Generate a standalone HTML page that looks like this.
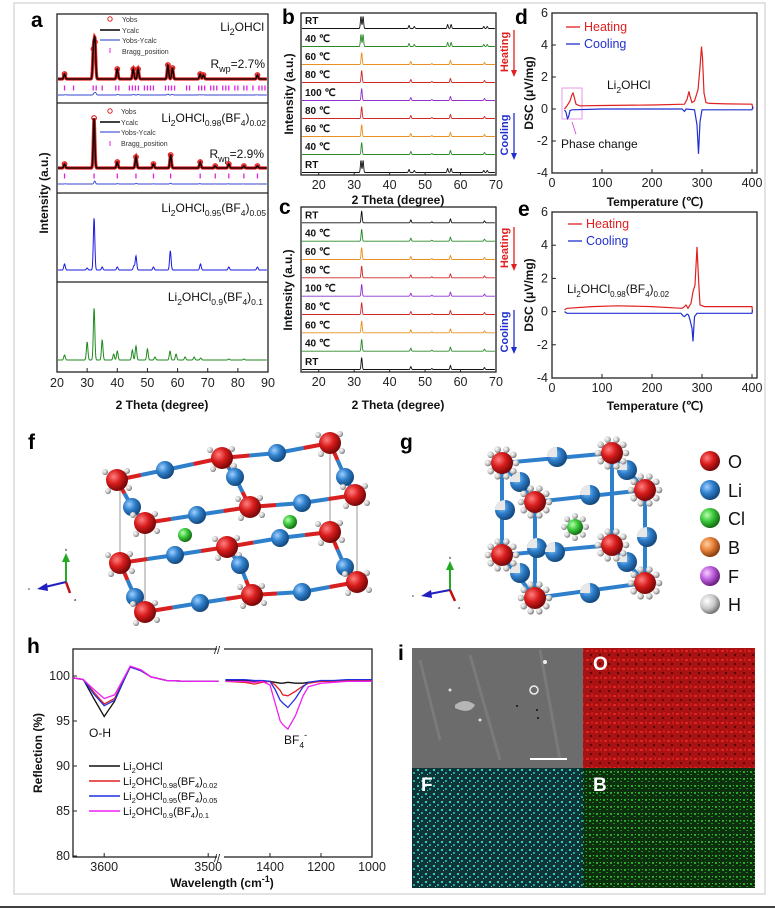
<!DOCTYPE html>
<html><head><meta charset="utf-8"><style>
html,body{margin:0;padding:0;background:#fff}
svg{display:block;font-family:"Liberation Sans",Arial,sans-serif}
.t{font-size:12px;fill:#111}
.b{font-weight:bold}
</style></head><body>
<svg id="fig" width="775" height="909" viewBox="0 0 775 909" xmlns="http://www.w3.org/2000/svg">
<defs>
<radialGradient id="gR" cx="35%" cy="35%" r="65%"><stop offset="0" stop-color="#ff8080"/><stop offset="0.5" stop-color="#d81c1c"/><stop offset="1" stop-color="#7a0808"/></radialGradient>
<radialGradient id="gB" cx="35%" cy="35%" r="65%"><stop offset="0" stop-color="#9fd0ff"/><stop offset="0.5" stop-color="#2f80cc"/><stop offset="1" stop-color="#154a80"/></radialGradient>
<radialGradient id="gG" cx="35%" cy="35%" r="65%"><stop offset="0" stop-color="#b8ffb0"/><stop offset="0.5" stop-color="#3cc83c"/><stop offset="1" stop-color="#157015"/></radialGradient>
<radialGradient id="gO" cx="35%" cy="35%" r="65%"><stop offset="0" stop-color="#ffd0a0"/><stop offset="0.5" stop-color="#e8823a"/><stop offset="1" stop-color="#8a4010"/></radialGradient>
<radialGradient id="gF" cx="35%" cy="35%" r="65%"><stop offset="0" stop-color="#f4d0ff"/><stop offset="0.5" stop-color="#c060e0"/><stop offset="1" stop-color="#6a2080"/></radialGradient>
<radialGradient id="gH" cx="35%" cy="35%" r="65%"><stop offset="0" stop-color="#ffffff"/><stop offset="0.6" stop-color="#c8c8c8"/><stop offset="1" stop-color="#777"/></radialGradient>
<pattern id="pO" width="9" height="9" patternUnits="userSpaceOnUse"><rect width="9" height="9" fill="#a81212"/><rect x="1" y="2" width="3" height="2" fill="#e02424"/><rect x="5" y="6" width="2" height="2" fill="#5a0505"/><rect x="6" y="1" width="2" height="3" fill="#cc1a1a"/></pattern>
<pattern id="pF" width="8" height="8" patternUnits="userSpaceOnUse"><rect width="8" height="8" fill="#0e3436"/><rect x="1" y="1" width="2" height="2" fill="#30d0d0"/><rect x="5" y="4" width="2" height="2" fill="#1fa6a6"/><rect x="3" y="6" width="1" height="1" fill="#40e0e0"/></pattern>
<pattern id="pBm" width="7" height="7" patternUnits="userSpaceOnUse"><rect width="7" height="7" fill="#0c300e"/><rect x="1" y="1" width="2" height="2" fill="#2aa82a"/><rect x="4" y="4" width="2" height="1" fill="#1f8a1f"/><rect x="5" y="1" width="1" height="1" fill="#38c038"/></pattern>
</defs>
<rect x="14" y="3" width="751" height="891" fill="none" stroke="#d0d0d0" stroke-width="1.2"/>
<line x1="0" y1="907" x2="775" y2="907" stroke="#000" stroke-width="1.5"/>

<g font-weight="bold" font-size="21" fill="#000">
<text x="31" y="27">a</text><text x="282" y="24">b</text><text x="279" y="214">c</text>
<text x="515" y="24">d</text><text x="518" y="216">e</text><text x="28" y="449">f</text>
<text x="400" y="449">g</text><text x="27" y="653">h</text><text x="398" y="660">i</text>
</g>

<g>
<rect x="57" y="14" width="211" height="358" fill="none" stroke="#222" stroke-width="1.3"/>
<line x1="57" y1="103" x2="268" y2="103" stroke="#222" stroke-width="1.3"/>
<line x1="57" y1="193" x2="268" y2="193" stroke="#222" stroke-width="1.3"/>
<line x1="57" y1="282" x2="268" y2="282" stroke="#222" stroke-width="1.3"/>
<text class="t b" font-size="14" transform="translate(48,193) rotate(-90)" text-anchor="middle">Intensity (a.u.)</text>
<text class="t b" font-size="15" x="162" y="409" text-anchor="middle">2 Theta (degree)</text>
<g font-size="7" fill="#333">
<circle cx="110" cy="19" r="2.2" fill="none" stroke="#e02020"/><text x="122" y="22">Yobs</text>
<line x1="100" y1="30" x2="120" y2="30" stroke="#000" stroke-width="1.5"/><text x="122" y="33">Ycalc</text>
<line x1="100" y1="40" x2="120" y2="40" stroke="#2233cc"/><text x="122" y="43">Yobs-Ycalc</text>
<line x1="110" y1="48" x2="110" y2="53" stroke="#e020e0"/><text x="122" y="54">Bragg_position</text>
</g>
<text class="t" font-size="13" x="264" y="31" text-anchor="end">Li<tspan dy="4" font-size="9">2</tspan><tspan dy="-4">OHCl</tspan></text>
<text class="t" font-size="13" x="265" y="68" text-anchor="end">R<tspan dy="4" font-size="9">wp</tspan><tspan dy="-4">=2.7%</tspan></text>
<g font-size="7" fill="#333">
<circle cx="110" cy="111" r="2.2" fill="none" stroke="#e02020"/><text x="121" y="114">Yobs</text>
<line x1="100" y1="122" x2="120" y2="122" stroke="#000" stroke-width="1.5"/><text x="121" y="125">Ycalc</text>
<line x1="100" y1="132" x2="120" y2="132" stroke="#2233cc"/><text x="121" y="135">Yobs-Ycalc</text>
<line x1="110" y1="141" x2="110" y2="146" stroke="#e020e0"/><text x="121" y="146">Bragg_position</text>
</g>
<text class="t" font-size="12.5" x="266" y="122" text-anchor="end">Li<tspan dy="4" font-size="8.5">2</tspan><tspan dy="-4">OHCl</tspan><tspan dy="4" font-size="8.5">0.98</tspan><tspan dy="-4">(BF</tspan><tspan dy="4" font-size="8.5">4</tspan><tspan dy="-4">)</tspan><tspan dy="4" font-size="8.5">0.02</tspan></text>
<text class="t" font-size="13" x="264" y="158" text-anchor="end">R<tspan dy="4" font-size="9">wp</tspan><tspan dy="-4">=2.9%</tspan></text>
<text class="t" font-size="12.5" x="266" y="212" text-anchor="end">Li<tspan dy="4" font-size="8.5">2</tspan><tspan dy="-4">OHCl</tspan><tspan dy="4" font-size="8.5">0.95</tspan><tspan dy="-4">(BF</tspan><tspan dy="4" font-size="8.5">4</tspan><tspan dy="-4">)</tspan><tspan dy="4" font-size="8.5">0.05</tspan></text>
<text class="t" font-size="12.5" x="263" y="301" text-anchor="end">Li<tspan dy="4" font-size="8.5">2</tspan><tspan dy="-4">OHCl</tspan><tspan dy="4" font-size="8.5">0.9</tspan><tspan dy="-4">(BF</tspan><tspan dy="4" font-size="8.5">4</tspan><tspan dy="-4">)</tspan><tspan dy="4" font-size="8.5">0.1</tspan></text>
<g id="aPlot"></g>
</g>

<g>
<rect x="301" y="13" width="195" height="162" fill="none" stroke="#222" stroke-width="1.3"/>
<text class="t b" font-size="14" transform="translate(293,94) rotate(-90)" text-anchor="middle">Intensity (a.u.)</text>
<text class="t b" font-size="15" x="398" y="204" text-anchor="middle">2 Theta (degree)</text>
<text font-size="11" font-weight="bold" fill="#e02020" transform="translate(508,52) rotate(-90)" text-anchor="middle">Heating</text>
<line x1="514" y1="30" x2="514" y2="72" stroke="#e02020" stroke-width="1.3"/><path d="M511,70 L514,77 L517,70Z" fill="#e02020"/>
<text font-size="11" font-weight="bold" fill="#2030d0" transform="translate(508,135) rotate(-90)" text-anchor="middle">Cooling</text>
<line x1="514" y1="113" x2="514" y2="155" stroke="#2030d0" stroke-width="1.3"/><path d="M511,153 L514,160 L517,153Z" fill="#2030d0"/>
<g id="bPlot"></g>
</g>
<g>
<rect x="301" y="207" width="195" height="165" fill="none" stroke="#222" stroke-width="1.3"/>
<text class="t b" font-size="14" transform="translate(292,290) rotate(-90)" text-anchor="middle">Intensity (a.u.)</text>
<text class="t b" font-size="15" x="398" y="409" text-anchor="middle">2 Theta (degree)</text>
<text font-size="11" font-weight="bold" fill="#e02020" transform="translate(508,248) rotate(-90)" text-anchor="middle">Heating</text>
<line x1="514" y1="227" x2="514" y2="266" stroke="#e02020" stroke-width="1.3"/><path d="M511,264 L514,271 L517,264Z" fill="#e02020"/>
<text font-size="11" font-weight="bold" fill="#2030d0" transform="translate(508,332) rotate(-90)" text-anchor="middle">Cooling</text>
<line x1="514" y1="310" x2="514" y2="349" stroke="#2030d0" stroke-width="1.3"/><path d="M511,347 L514,354 L517,347Z" fill="#2030d0"/>
<g id="cPlot"></g>
</g>

<g>
<rect x="552" y="13" width="205" height="160" fill="none" stroke="#222" stroke-width="1.3"/>
<text class="t b" font-size="14" transform="translate(533,93) rotate(-90)" text-anchor="middle">DSC (μV/mg)</text>
<text class="t b" font-size="14" x="655" y="206" text-anchor="middle">Temperature (℃)</text>
<line x1="566" y1="27" x2="580" y2="27" stroke="#e02020" stroke-width="1.3"/><text x="584" y="31" font-size="12.5" fill="#e02020">Heating</text>
<line x1="566" y1="44" x2="580" y2="44" stroke="#2030d0" stroke-width="1.3"/><text x="584" y="48" font-size="12.5" fill="#2030d0">Cooling</text>
<text class="t" font-size="12.5" x="607" y="89">Li<tspan dy="4" font-size="8.5">2</tspan><tspan dy="-4">OHCl</tspan></text>
<rect x="562" y="88" width="20" height="31" fill="none" stroke="#e080e0" stroke-width="0.8"/>
<line x1="576" y1="134" x2="572" y2="122" stroke="#d040d0" stroke-width="0.8"/>
<text class="t" font-size="12.5" x="561" y="148">Phase change</text>
<g id="dPlot"></g>
</g>
<g>
<rect x="552" y="212" width="205" height="166" fill="none" stroke="#222" stroke-width="1.3"/>
<text class="t b" font-size="14" transform="translate(533,295) rotate(-90)" text-anchor="middle">DSC (μV/mg)</text>
<text class="t b" font-size="14" x="655" y="410" text-anchor="middle">Temperature (℃)</text>
<line x1="568" y1="224" x2="582" y2="224" stroke="#e02020" stroke-width="1.3"/><text x="586" y="228" font-size="12.5" fill="#e02020">Heating</text>
<line x1="568" y1="241" x2="582" y2="241" stroke="#2030d0" stroke-width="1.3"/><text x="586" y="245" font-size="12.5" fill="#2030d0">Cooling</text>
<text class="t" font-size="12" x="567" y="293">Li<tspan dy="4" font-size="8">2</tspan><tspan dy="-4">OHCl</tspan><tspan dy="4" font-size="8">0.98</tspan><tspan dy="-4">(BF</tspan><tspan dy="4" font-size="8">4</tspan><tspan dy="-4">)</tspan><tspan dy="4" font-size="8">0.02</tspan></text>
<g id="ePlot"></g>
</g>

<g id="fPlot"></g>
<g id="gPlot"></g>
<g>
<circle cx="710" cy="461" r="10" fill="url(#gR)"/><text x="728" y="468" font-size="18" fill="#111">O</text>
<circle cx="710" cy="490" r="10" fill="url(#gB)"/><text x="728" y="497" font-size="18" fill="#111">Li</text>
<circle cx="710" cy="518" r="10" fill="url(#gG)"/><text x="728" y="525" font-size="18" fill="#111">Cl</text>
<circle cx="710" cy="547" r="10" fill="url(#gO)"/><text x="728" y="554" font-size="18" fill="#111">B</text>
<circle cx="710" cy="576" r="10" fill="url(#gF)"/><text x="728" y="583" font-size="18" fill="#111">F</text>
<circle cx="710" cy="604" r="10" fill="url(#gH)"/><text x="728" y="611" font-size="18" fill="#111">H</text>
</g>
<g>
<line x1="66" y1="582" x2="66" y2="560" stroke="#22aa22" stroke-width="2"/><path d="M62,562 L66,553 L70,562Z" fill="#22aa22"/>
<line x1="66" y1="582" x2="45" y2="587" stroke="#2020c0" stroke-width="2"/><path d="M47,583 L37,589 L48,591Z" fill="#2020c0"/>
<line x1="66" y1="582" x2="70" y2="593" stroke="#c01010" stroke-width="2.5"/>
<text x="65" y="551" font-size="4">b</text><text x="28" y="590" font-size="4">c</text><text x="74" y="601" font-size="4">a</text>
</g>
<g>
<line x1="450" y1="590" x2="450" y2="568" stroke="#22aa22" stroke-width="2"/><path d="M446,570 L450,561 L454,570Z" fill="#22aa22"/>
<line x1="450" y1="590" x2="429" y2="594" stroke="#2020c0" stroke-width="2"/><path d="M431,590 L421,596 L432,598Z" fill="#2020c0"/>
<line x1="450" y1="590" x2="455" y2="601" stroke="#c01010" stroke-width="2.5"/>
<text x="449" y="559" font-size="4">b</text><text x="412" y="597" font-size="4">c</text><text x="458" y="609" font-size="4">a</text>
</g>

<g>
<rect x="73" y="649" width="299" height="208" fill="none" stroke="#222" stroke-width="1.3"/>
<rect x="217" y="645" width="7" height="8" fill="#fff"/><rect x="217" y="853" width="7" height="8" fill="#fff"/>
<text x="214" y="654" font-size="11" fill="#222">//</text>
<text x="214" y="862" font-size="11" fill="#222">//</text>
<text class="t b" font-size="14" transform="translate(42,753) rotate(-90)" text-anchor="middle">Reflection (%)</text>
<text class="t b" font-size="14" x="222" y="887" text-anchor="middle">Wavelength (cm<tspan dy="-5" font-size="9">-1</tspan><tspan dy="5">)</tspan></text>
<text class="t" font-size="12.5" x="89" y="737">O-H</text>
<text class="t" font-size="12.5" x="284" y="744">BF<tspan dy="4" font-size="8.5">4</tspan><tspan dy="-10" font-size="9">-</tspan></text>
<g font-size="11" fill="#111">
<line x1="89" y1="766" x2="120" y2="766" stroke="#111" stroke-width="1.5"/><text x="123" y="770">Li<tspan dy="3" font-size="7.5">2</tspan><tspan dy="-3">OHCl</tspan></text>
<line x1="89" y1="781" x2="120" y2="781" stroke="#e02020" stroke-width="1.5"/><text x="123" y="785">Li<tspan dy="3" font-size="7.5">2</tspan><tspan dy="-3">OHCl</tspan><tspan dy="3" font-size="7.5">0.98</tspan><tspan dy="-3">(BF</tspan><tspan dy="3" font-size="7.5">4</tspan><tspan dy="-3">)</tspan><tspan dy="3" font-size="7.5">0.02</tspan></text>
<line x1="89" y1="796" x2="120" y2="796" stroke="#2030e0" stroke-width="1.5"/><text x="123" y="800">Li<tspan dy="3" font-size="7.5">2</tspan><tspan dy="-3">OHCl</tspan><tspan dy="3" font-size="7.5">0.95</tspan><tspan dy="-3">(BF</tspan><tspan dy="3" font-size="7.5">4</tspan><tspan dy="-3">)</tspan><tspan dy="3" font-size="7.5">0.05</tspan></text>
<line x1="89" y1="811" x2="120" y2="811" stroke="#f020f0" stroke-width="1.5"/><text x="123" y="815">Li<tspan dy="3" font-size="7.5">2</tspan><tspan dy="-3">OHCl</tspan><tspan dy="3" font-size="7.5">0.9</tspan><tspan dy="-3">(BF</tspan><tspan dy="3" font-size="7.5">4</tspan><tspan dy="-3">)</tspan><tspan dy="3" font-size="7.5">0.1</tspan></text>
</g>
<g id="hPlot"></g>
</g>

<g>
<rect x="412" y="648" width="171" height="120" fill="#6c6c6c"/>
<path d="M420,660 L440,740 M470,655 L500,760 M540,650 L560,760" stroke="#7a7a7a" stroke-width="3"/>
<path d="M455,705 q10,-8 20,0 q-5,10 -20,3Z" fill="#c8c8c8" opacity="0.8"/>
<circle cx="534" cy="690" r="4" fill="none" stroke="#eee" stroke-width="1.5"/>
<circle cx="450" cy="690" r="1.5" fill="#ddd"/><circle cx="480" cy="720" r="1.5" fill="#ddd"/><circle cx="545" cy="662" r="2" fill="#eee"/>
<circle cx="517" cy="706" r="1" fill="#111"/><circle cx="538" cy="718" r="1" fill="#111"/><circle cx="537" cy="710" r="1" fill="#111"/>
<line x1="530" y1="759" x2="567" y2="759" stroke="#fff" stroke-width="2"/>
<rect x="583" y="648" width="172" height="120" fill="url(#pO)"/>
<rect x="412" y="768" width="171" height="120" fill="url(#pF)"/>
<rect x="583" y="768" width="172" height="120" fill="url(#pBm)"/>
<text x="593" y="670" font-size="19" font-weight="bold" fill="#fff">O</text>
<text x="421" y="791" font-size="19" font-weight="bold" fill="#fff">F</text>
<text x="593" y="791" font-size="19" font-weight="bold" fill="#fff">B</text>
</g>
</svg>
<script>
const aTicks=[20,30,40,50,60,70,80,90];
const aPeaks1=[22.5,32.1,32.6,40,45.3,46.9,56.8,58.3,67.5,68.6,86.5];
const aInts1=[5,30,37,10,10,10,14,11,5,4,4];
const aBragg1=[22.5,25.5,32,33,35,39.5,40.5,44,45,46,47,49,50,51,52,56,57,58,59,63,64,67,68,69,71,72,73,75,76,77,79,80,82,83,85,87,88,89];
const aPeaks2=[22.5,32.3,40,46.2,52,57.7,67.5,72.5,77,82,86.5];
const aInts2=[4,50,6,11,4,13,6,2,4,2,2];
const aBragg2=[22.5,32.3,40,46.2,52,57.7,67.5,72.5,77,82,86.5];
const aPeaks3=[22.5,30,32.3,35,40,45.5,46.2,52,57.6,67.6,77,86.5];
const aInts3=[6,2,52,3,3,4,14,3,19,6,3,3];
const aPeaks4=[22.5,30,32.3,35,38.8,40,45,46.2,50,52.5,57.5,59.5,62.5,65.5,67.7,77,82];
const aInts4=[5,18,52,20,6,9,10,14,11,3,9,6,3,3,2,1,1];

const bcTicks=[20,30,40,50,60,70];
const rowLabels=["RT","40 ℃","60 ℃","80 ℃","100 ℃","80 ℃","60 ℃","40 ℃","RT"];
const rowColors=["#111","#2a8a2a","#e89020","#d02828","#9030d0","#d02828","#e89020","#2a8a2a","#111"];
const bRowPhase=["RT","RT","HT","HT","HT","HT","HT","HT","RT"];
const peaksRT=[31.8,32.4,45.5,47,56.5,57.5,66.8,67.8];
const intsRT=[12,12,3,2,4,4,2,2];
const peaksHT=[32,46,52,57.3,67];
const intsHT=[12,3,1,4,2];

const dscXTicks=[0,100,200,300,400];
const dscYTicks=[-4,-2,0,2,4,6];
const dHeatT=[25,30,36,40,42,44,48,55,100,200,265,270,274,276,280,285,292,296,299,301,304,308,315,350,400,402];
const dHeatV=[0.0,0.2,0.5,0.9,1.0,0.8,0.3,0.2,0.22,0.25,0.3,0.6,1.1,0.8,0.4,0.5,1.2,2.6,3.9,3.2,1.0,0.4,0.35,0.32,0.3,0.0];
const dCoolT=[25,28,31,33,36,40,100,200,260,265,268,285,290,293,296,300,350,400,402];
const dCoolV=[-0.05,-0.2,-0.6,-0.5,-0.1,-0.05,0.0,0.0,0.0,-0.15,0.0,-0.05,-1.0,-2.8,-0.8,-0.05,-0.05,-0.05,0.15];
const eHeatT=[25,30,80,130,200,260,265,268,272,278,282,286,290,293,296,305,350,400,401];
const eHeatV=[0.1,0.2,0.3,0.35,0.3,0.2,0.3,0.4,0.2,0.5,1.2,1.6,3.9,2.0,0.4,0.3,0.3,0.3,0.0];
const eCoolT=[25,30,100,200,258,262,265,270,273,276,280,282,285,290,300,400,401];
const eCoolV=[0.0,-0.1,-0.1,-0.1,-0.1,-0.25,-0.3,-0.15,-0.2,-0.5,-1.0,-1.8,-0.3,-0.1,-0.1,-0.1,0.1];

const hYTicks=[80,85,90,95,100];
const hLeftTicks=[3600,3500];
const hRightTicks=[1400,1200,1000];
const hLeftX=[3630,3620,3610,3600,3590,3580,3575,3565,3555,3540,3520,3500,3490];
const hBlackL=[99.8,99.6,97.5,95.5,97.2,99.8,101.0,100.7,99.9,99.5,99.4,99.4,99.4];
const hRedL=[99.8,99.6,98.2,96.9,97.5,99.9,101.0,100.6,99.9,99.5,99.4,99.4,99.4];
const hBlueL=[99.8,99.6,98.0,96.7,97.3,99.8,101.0,100.6,99.9,99.5,99.4,99.4,99.4];
const hMagL=[99.8,99.6,98.5,97.5,97.9,100.0,101.1,100.7,99.9,99.5,99.4,99.4,99.4];
const hRightX=[1575,1500,1460,1430,1400,1380,1360,1350,1330,1300,1270,1250,1200,1150,1100,1000];
const hBlackR=[99.5,99.5,99.4,99.4,99.4,99.3,99.2,99.2,99.3,99.2,99.2,99.3,99.4,99.4,99.5,99.5];
const hRedR=[99.4,99.3,99.1,99.3,99.4,99.0,98.4,97.9,97.8,98.3,98.9,99.2,99.4,99.4,99.5,99.5];
const hBlueR=[99.6,99.6,99.5,99.5,99.4,98.5,97.3,97.0,96.5,97.5,98.8,99.3,99.5,99.5,99.6,99.6];
const hMagR=[99.4,99.4,99.3,99.4,99.0,97.0,95.0,94.6,94.1,95.6,97.8,98.8,99.2,99.3,99.4,99.4];

const NS='http://www.w3.org/2000/svg';
function mk(tag,attrs,parent){const e=document.createElementNS(NS,tag);for(const k in attrs)e.setAttribute(k,attrs[k]);parent.appendChild(e);return e;}
function profile(d,pos,ints,w){let v=0;for(let i=0;i<pos.length;i++){const z=(d-pos[i])/w;v+=ints[i]*Math.exp(-z*z);}return v;}
function specPath(x0,x1,d0,d1,base,scale,pos,ints,w){let s='';for(let px=x0;px<=x1;px+=0.3){const d=d0+(px-x0)/(x1-x0)*(d1-d0);const y=base-profile(d,pos,ints,w)*scale;s+=(s?'L':'M')+px.toFixed(1)+','+y.toFixed(1);}return s;}
function linePath(xs,ys,fx,fy){return xs.map((x,i)=>(i?'L':'M')+fx(x).toFixed(1)+','+fy(ys[i]).toFixed(1)).join('');}

const aG=document.getElementById('aPlot');
const xA=d=>57+(d-20)/70*211;
const aSets=[
 {pos:aPeaks1,ints:aInts1,base:79,color:'#000',red:true,bragg:aBragg1,by:88,ry:95},
 {pos:aPeaks2,ints:aInts2,base:168,color:'#000',red:true,bragg:aBragg2,by:176,ry:184},
 {pos:aPeaks3,ints:aInts3,base:270,color:'#1a1ae0',red:false},
 {pos:aPeaks4,ints:aInts4,base:360,color:'#1f8a1f',red:false}];
aSets.forEach((s,k)=>{
 const d=specPath(58,267,20+1/211*70,90-1/211*70,s.base,1,s.pos,s.ints,0.35);
 if(s.red){
  const r=mk('path',{d:d,fill:'none',stroke:'#e02020','stroke-width':3.2},aG);
  
  
  s.pos.forEach((p,i)=>{const c=mk('circle',{cx:xA(p),cy:s.base-s.ints[i],r:2.3,fill:'none',stroke:'#e02020','stroke-width':1.2},aG);
   
   });
 }
 const p=mk('path',{d:d,fill:'none',stroke:s.color,'stroke-width':s.red?1.3:1},aG);
 
 
 if(s.bragg){
  s.bragg.forEach(b=>{const t=mk('line',{x1:xA(b),x2:xA(b),y1:s.by-2.5,y2:s.by+2.5,stroke:'#e020e0','stroke-width':1.3},aG);
   
   });
  const dd=specPath(58,267,20,90,s.ry,0.06,s.pos,s.ints,0.35);
  const rr=mk('path',{d:dd,fill:'none',stroke:'#3344cc','stroke-width':0.9},aG);
  
  
 }
});
aTicks.forEach(t=>{
 const l=mk('line',{x1:xA(t),x2:xA(t),y1:372,y2:368,stroke:'#222'},aG);
 
 
 const tx=mk('text',{x:xA(t),y:387,'text-anchor':'middle','font-size':12.5,fill:'#222'},aG);tx.textContent=t;
 
 
});

function rowPanel(gid,top,bottom,phases,prefix){
 const g=document.getElementById(gid);
 const xB=d=>301+(d-15)/55*195;
 const rh=(bottom-top)/9;
 rowLabels.forEach((lab,i)=>{
  const base=top+rh*(i+1)-2.5;
  const rt=phases[i]==='RT';
  const d=specPath(302,495,15,70,base,1,rt?peaksRT:peaksHT,rt?intsRT:intsHT,0.22);
  const p=mk('path',{d:d,fill:'none',stroke:rowColors[i],'stroke-width':0.9},g);
  
  
  const t=mk('text',{x:305,y:top+rh*i+rh*0.62,'font-size':10,'font-weight':'bold',fill:'#111'},g);t.textContent=lab;
  
  
 });
 bcTicks.forEach(v=>{
  const l=mk('line',{x1:xB(v),x2:xB(v),y1:bottom,y2:bottom-3,stroke:'#222'},g);
  
  
  const tx=mk('text',{x:xB(v),y:bottom+14,'text-anchor':'middle','font-size':12.5,fill:'#222'},g);tx.textContent=v;
  
  
 });
}
rowPanel('bPlot',13,175,bRowPhase,'b');
rowPanel('cPlot',207,372,["HT","HT","HT","HT","HT","HT","HT","HT","HT"],'c');

function dscPanel(gid,top,bottom,hT,hV,cT,cV,prefix){
 const g=document.getElementById(gid);
 const fx=t=>552+t/410*205, fy=v=>bottom-(v+4)/10*(bottom-top);
 dscYTicks.forEach(v=>{
  const l=mk('line',{x1:552,x2:556,y1:fy(v),y2:fy(v),stroke:'#222'},g);
  
  
  const tx=mk('text',{x:548,y:fy(v)+4,'text-anchor':'end','font-size':12.5,fill:'#222'},g);tx.textContent=v;
  
  
 });
 dscXTicks.forEach(v=>{
  const l=mk('line',{x1:fx(v),x2:fx(v),y1:bottom,y2:bottom-4,stroke:'#222'},g);
  
  
  const tx=mk('text',{x:fx(v),y:bottom+14,'text-anchor':'middle','font-size':12.5,fill:'#222'},g);tx.textContent=v;
  
  
 });
 const h=mk('path',{d:linePath(hT,hV,fx,fy),fill:'none',stroke:'#e02020','stroke-width':1.2},g);
 
 
 const c=mk('path',{d:linePath(cT,cV,fx,fy),fill:'none',stroke:'#2030d0','stroke-width':1.2},g);
 
 
}
dscPanel('dPlot',13,173,dHeatT,dHeatV,dCoolT,dCoolV,'d');
dscPanel('ePlot',212,378,eHeatT,eHeatV,eCoolT,eCoolV,'e');

(function(){
 const g=document.getElementById('hPlot');
 const fxL=d=>73+(3630-d)*1.04, fxR=d=>270+(1400-d)*0.255, fy=v=>676+(100-v)*9;
 hYTicks.forEach(v=>{
  const l=mk('line',{x1:73,x2:77,y1:fy(v),y2:fy(v),stroke:'#222'},g);
  
  
  const tx=mk('text',{x:70,y:fy(v)+4,'text-anchor':'end','font-size':12.5,fill:'#222'},g);tx.textContent=v;
  
  
 });
 hLeftTicks.concat(hRightTicks).forEach((v,i)=>{
  const x=i<hLeftTicks.length?fxL(v):fxR(v);
  const l=mk('line',{x1:x,x2:x,y1:857,y2:853,stroke:'#222'},g);
  
  
  const tx=mk('text',{x:x,y:871,'text-anchor':'middle','font-size':12.5,fill:'#222'},g);tx.textContent=v;
  
  
 });
 const series=[[hBlackL,hBlackR,'#111'],[hRedL,hRedR,'#e02020'],[hBlueL,hBlueR,'#2030e0'],[hMagL,hMagR,'#f020f0']];
 series.forEach((s,i)=>{
  const a=mk('path',{d:linePath(hLeftX,s[0],fxL,fy),fill:'none',stroke:s[2],'stroke-width':1.3},g);
  
  
  const b=mk('path',{d:linePath(hRightX,s[1],fxR,fy),fill:'none',stroke:s[2],'stroke-width':1.3},g);
  
  
 });
})();

(function(){
 const g=document.getElementById('fPlot');
 const cellLines=[[120,490,120,560],[145,523,145,612],[330,443,330,532],[357,495,357,582]];
 cellLines.forEach(c=>{mk('line',{x1:c[0],y1:c[1],x2:c[2],y2:c[3],stroke:'#555','stroke-width':0.6},g);});
 const chains=[
  [[117,480,'R'],[165,470,'B'],[222,458,'R'],[277,453,'B'],[330,443,'R']],
  [[117,480,'R'],[132,507,'B'],[145,523,'R']],[[222,458,'R'],[235,477,'B'],[250,507,'R']],[[330,443,'R'],[345,477,'B'],[355,495,'R']],
  [[145,523,'R'],[197,515,'B'],[250,507,'R'],[302,503,'B'],[355,495,'R']],
  [[120,563,'R'],[175,555,'B'],[227,547,'R'],[280,538,'B'],[330,532,'R']],
  [[120,563,'R'],[135,597,'B'],[145,612,'R']],[[227,547,'R'],[240,565,'B'],[252,595,'R']],[[330,532,'R'],[345,567,'B'],[357,582,'R']],
  [[145,612,'R'],[200,603,'B'],[252,595,'R'],[302,592,'B'],[357,582,'R']]];
 const atoms=new Map();
 chains.forEach(ch=>{for(let i=0;i<ch.length-1;i++){const a=ch[i],b=ch[i+1];const mx=(a[0]+b[0])/2,my=(a[1]+b[1])/2;
  mk('line',{x1:a[0],y1:a[1],x2:mx,y2:my,stroke:a[2]==='R'?'#d82020':'#2f80cc','stroke-width':4},g);
  mk('line',{x1:mx,y1:my,x2:b[0],y2:b[1],stroke:b[2]==='R'?'#d82020':'#2f80cc','stroke-width':4},g);}
  ch.forEach(a=>atoms.set(a[0]+','+a[1],a));});
 atoms.forEach(a=>{
  if(a[2]==='R'){[[-12,-8],[10,-9],[-9,11],[12,8]].forEach(o=>mk('circle',{cx:a[0]+o[0],cy:a[1]+o[1],r:3,fill:'url(#gH)'},g));
   mk('circle',{cx:a[0],cy:a[1],r:11,fill:'url(#gR)'},g);}
  else mk('circle',{cx:a[0],cy:a[1],r:9,fill:'url(#gB)'},g);
 });
 mk('circle',{cx:185,cy:535,r:7,fill:'url(#gG)'},g);
 mk('circle',{cx:290,cy:522,r:7,fill:'url(#gG)'},g);
})();

(function(){
 const g=document.getElementById('gPlot');
 const reds=[[502,463],[612,453],[645,490],[535,502],[502,555],[612,545],[645,583],[535,598]];
 const edges=[[0,1],[1,2],[0,3],[3,2],[4,5],[5,6],[4,7],[7,6],[0,4],[1,5],[2,6],[3,7]];
 edges.forEach(e=>{const a=reds[e[0]],b=reds[e[1]];mk('line',{x1:a[0],y1:a[1],x2:b[0],y2:b[1],stroke:'#2f80cc','stroke-width':4},g);});
 const blues=[[557,457],[627,470],[520,482],[590,495],[505,510],[647,537],[537,548],[555,552],[627,562],[520,573],[590,593]];
 blues.forEach(b=>{mk('circle',{cx:b[0],cy:b[1],r:10,fill:'url(#gB)'},g);mk('path',{d:`M${b[0]-10},${b[1]} A10,10 0 0 1 ${b[0]},${b[1]-10} L${b[0]},${b[1]}Z`,fill:'#e8e8e8'},g);});
 reds.forEach(r=>{for(let k=0;k<10;k++){const an=k*Math.PI/5;mk('circle',{cx:r[0]+14*Math.cos(an),cy:r[1]+14*Math.sin(an),r:3.3,fill:'url(#gH)'},g);}
  mk('circle',{cx:r[0],cy:r[1],r:11,fill:'url(#gR)'},g);});
 for(let k=0;k<8;k++){const an=k*Math.PI/4;mk('circle',{cx:575+11*Math.cos(an),cy:527+11*Math.sin(an),r:3,fill:'url(#gH)'},g);}
 mk('circle',{cx:575,cy:527,r:8,fill:'url(#gG)'},g);
})();
</script>
</body></html>
